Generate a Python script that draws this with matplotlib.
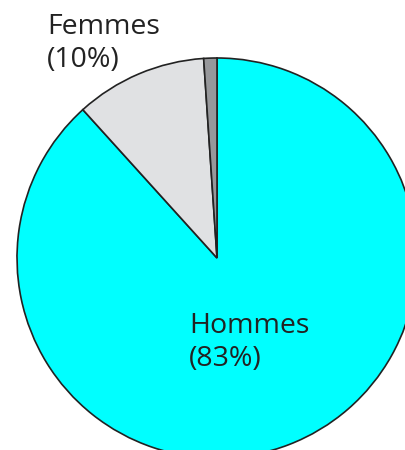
import matplotlib.pyplot as plt

# share of each group (normalised by pie)
labels = ["Hommes", "Femmes", "Autre"]
values = [83, 10, 1]
colors = ["#00FFFF", "#E0E1E3", "#97989B"]

fig = plt.figure(figsize=(4.06, 4.5), dpi=100)
ax = fig.add_axes([0, 0, 1, 1])

ax.pie(values, colors=colors, startangle=90, counterclock=False,
       center=(217, 192), radius=200, frame=True,
       wedgeprops=dict(edgecolor="#222222", linewidth=1.2))
ax.set_xlim(0, 406)
ax.set_ylim(0, 450)
ax.set_aspect("equal")
ax.axis("off")

font = dict(family=["Open Sans", "DejaVu Sans"], fontsize=20.5, color="#222222",
            linespacing=1.25, va="top", ha="left")
ax.text(189, 138, f"{labels[0]}\n({values[0]}%)", **font)
ax.text(47, 437, f"{labels[1]}\n({values[1]}%)", **font)

fig.savefig("out.png", dpi=100)
